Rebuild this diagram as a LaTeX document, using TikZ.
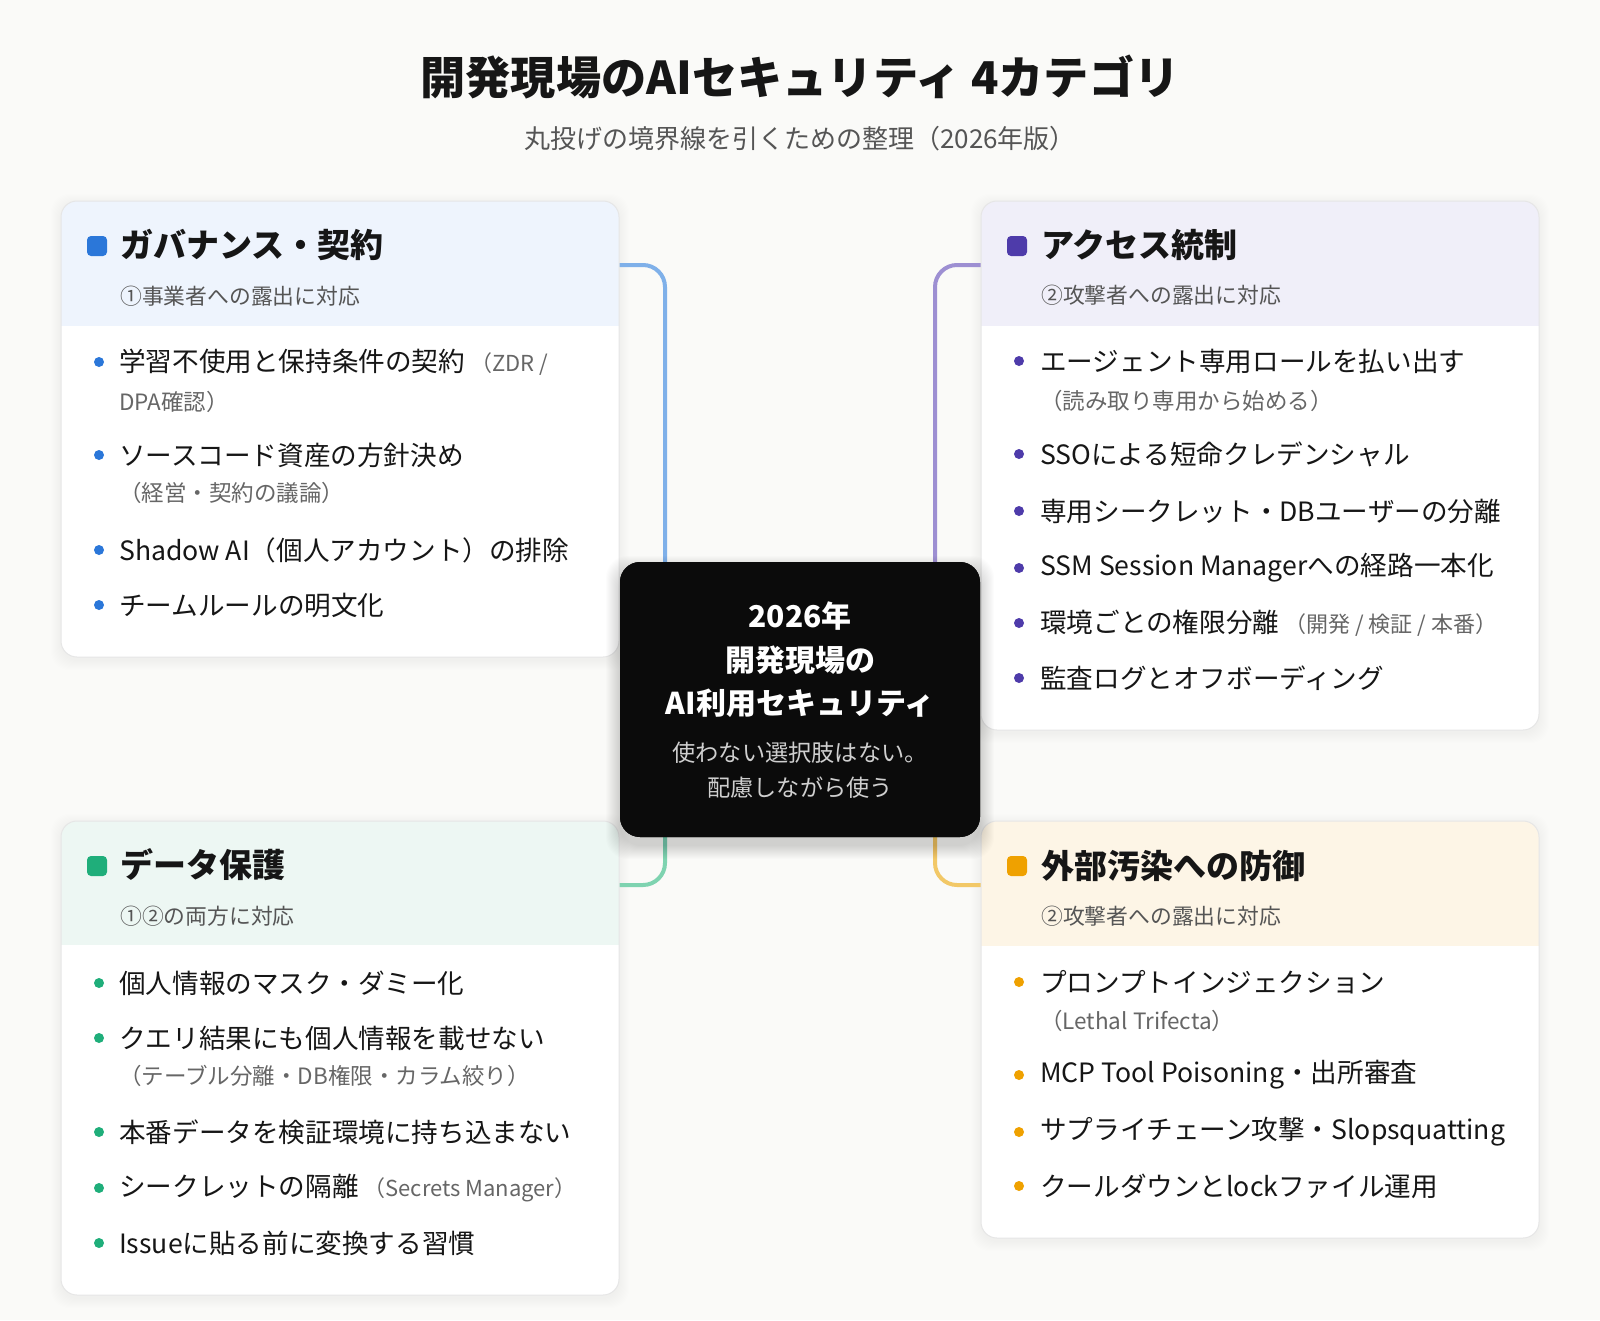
\documentclass[tikz,border=0pt]{standalone}
\usepackage{fontspec}
\setmainfont{Noto Sans CJK JP}
\definecolor{bgc}{HTML}{FAFAF8}
\definecolor{cardline}{HTML}{E6E6E6}
\definecolor{ink}{HTML}{161616}
\definecolor{subink}{HTML}{555555}
\definecolor{noteink}{HTML}{666666}
\definecolor{ctrfill}{HTML}{0B0B0B}
\definecolor{ctrsub}{HTML}{CFCFCF}
\definecolor{hdrA}{HTML}{EEF4FD}
\definecolor{bulA}{HTML}{2B77D9}
\definecolor{lnA}{HTML}{7FB0E9}
\definecolor{hdrB}{HTML}{F0EFF9}
\definecolor{bulB}{HTML}{4E3BAA}
\definecolor{lnB}{HTML}{9D8FD2}
\definecolor{hdrC}{HTML}{EDF7F3}
\definecolor{bulC}{HTML}{1FAE7A}
\definecolor{lnC}{HTML}{7ED3B0}
\definecolor{hdrD}{HTML}{FDF5E6}
\definecolor{bulD}{HTML}{EFA100}
\definecolor{lnD}{HTML}{F2C867}
\pgfdeclarelayer{bglayer}
\pgfsetlayers{bglayer,main}
\newcommand\softshadow[4]{% node, radius, opacity, drop
  \foreach \i in {1,...,10}{
    \fill[black,opacity=#3,rounded corners=#2]
      ([xshift={-\i*1pt},yshift={\i*1pt-#4}]#1.north west) rectangle
      ([xshift={\i*1pt},yshift={-\i*1pt-#4}]#1.south east);
  }}
\newcommand\headerband[3]{% node, color, height
  \begin{scope}
    \clip[rounded corners=16pt] (#1.north west) rectangle (#1.south east);
    \fill[#2] (#1.north west) rectangle ([yshift=-#3]#1.north east);
  \end{scope}
  \draw[cardline,line width=1pt,rounded corners=16pt] (#1.north west) rectangle (#1.south east);}
\begin{document}
\begin{tikzpicture}[x=1pt,y=-1pt,
  card/.style={fill=white, rounded corners=16pt, minimum width=558pt, inner sep=0pt, outer sep=0pt, anchor=north west},
  ctrbox/.style={fill=ctrfill, rounded corners=20pt, minimum width=360pt, minimum height=275pt, inner sep=0pt, outer sep=0pt},
  sqbul/.style={fill=#1, rounded corners=4pt, minimum size=20pt, inner sep=0pt},
  rdbul/.style={circle, fill=#1, minimum size=10pt, inner sep=0pt},
  hdtext/.style={anchor=west, inner sep=0pt, text=ink, font=\fontsize{33}{38}\selectfont\bfseries},
  hstext/.style={anchor=west, inner sep=0pt, text=subink, font=\fontsize{21.8}{25}\selectfont},
  ittext/.style={anchor=west, inner sep=0pt, text=ink, font=\fontsize{26.6}{30}\selectfont},
  nttext/.style={anchor=west, inner sep=0pt, text=noteink, font=\fontsize{22.5}{26}\selectfont},
  ctrbig/.style={inner sep=0pt, text=white, font=\fontsize{30}{34}\selectfont\bfseries},
  ctrsmall/.style={inner sep=0pt, text=ctrsub, font=\fontsize{23.2}{27}\selectfont},
  conn/.style={draw=#1, line width=4pt, rounded corners=22pt},
]
\newcommand\nt[1]{\hspace{5pt}{\color{noteink}\fontsize{22}{25}\selectfont #1}}
\begin{pgfonlayer}{bglayer}
\fill[bgc] (0,0) rectangle (1600,1320);
\end{pgfonlayer}
\useasboundingbox (0,0) rectangle (1600,1320);

% title
\node[inner sep=0pt, text=ink, font=\fontsize{45.2}{50}\selectfont\bfseries] (title) at (800,77) {開発現場のAIセキュリティ 4カテゴリ};
\node[inner sep=0pt, text=subink, font=\fontsize{26}{30}\selectfont] (subtitle) at (800,139) {丸投げの境界線を引くための整理（2026年版）};

% cards
\node[card, minimum height=456pt] (tl) at (61,201) {};
\node[card, minimum height=529pt] (tr) at (981,201) {};
\node[card, minimum height=474pt] (bl) at (61,821) {};
\node[card, minimum height=417pt] (br) at (981,821) {};
\node[ctrbox] (ctr) at (800,699.5) {};

\begin{pgfonlayer}{bglayer}
\softshadow{tl}{18pt}{0.005}{3pt}
\softshadow{tr}{18pt}{0.005}{3pt}
\softshadow{bl}{18pt}{0.005}{3pt}
\softshadow{br}{18pt}{0.005}{3pt}
\draw[conn=lnA] ([yshift=-64pt]tl.north east) -| ([xshift=-135pt]ctr.north);
\draw[conn=lnB] ([yshift=-64pt]tr.north west) -| ([xshift=135pt]ctr.north);
\draw[conn=lnC] ([xshift=-135pt]ctr.south) |- ([yshift=-64pt]bl.north east);
\draw[conn=lnD] ([xshift=135pt]ctr.south) |- ([yshift=-64pt]br.north west);
\end{pgfonlayer}

\headerband{tl}{hdrA}{125pt}
\headerband{tr}{hdrB}{125pt}
\headerband{bl}{hdrC}{124pt}
\headerband{br}{hdrD}{125pt}

% center box shadow + box drawn again on top
\begin{scope}
\foreach \i in {1,...,14}{
  \fill[black,opacity=0.012,rounded corners=22pt]
    ([xshift={-\i*1pt},yshift={\i*1pt-8pt}]ctr.north west) rectangle
    ([xshift={\i*1pt},yshift={-\i*1pt-8pt}]ctr.south east);
}
\end{scope}
\fill[ctrfill,rounded corners=20pt] (ctr.north west) rectangle (ctr.south east);

% ---- TL: governance
\node[sqbul=bulA] (tlsq) at (97,246) {};
\node[hdtext] (tlh) at (120,245) {ガバナンス・契約};
\node[hstext] (tls) at (120,296) {①事業者への露出に対応};
\node[rdbul=bulA] (tld1) at (99,362) {};
\node[ittext] (tli1) at (119,362) {学習不使用と保持条件の契約\nt{（ZDR /}};
\node[nttext] (tln1) at (119,402) {DPA確認）};
\node[rdbul=bulA] (tld2) at (99,455) {};
\node[ittext] (tli2) at (119,455) {ソースコード資産の方針決め};
\node[nttext] (tln2) at (119,493) {（経営・契約の議論）};
\node[rdbul=bulA] (tld3) at (99,550) {};
\node[ittext] (tli3) at (119,550) {Shadow AI（個人アカウント）の排除};
\node[rdbul=bulA] (tld4) at (99,605) {};
\node[ittext] (tli4) at (119,605) {チームルールの明文化};

% ---- TR: access control
\node[sqbul=bulB] (trsq) at (1017,246) {};
\node[hdtext] (trh) at (1041,245) {アクセス統制};
\node[hstext] (trs) at (1041,295) {②攻撃者への露出に対応};
\node[rdbul=bulB] (trd1) at (1019,361) {};
\node[ittext] (tri1) at (1040,361) {エージェント専用ロールを払い出す};
\node[nttext] (trn1) at (1040,401) {（読み取り専用から始める）};
\node[rdbul=bulB] (trd2) at (1019,454) {};
\node[ittext] (tri2) at (1040,454) {SSOによる短命クレデンシャル};
\node[rdbul=bulB] (trd3) at (1019,511) {};
\node[ittext] (tri3) at (1040,511) {専用シークレット・DBユーザーの分離};
\node[rdbul=bulB] (trd4) at (1019,568) {};
\node[ittext] (tri4) at (1040,568) {SSM Session Managerへの経路一本化};
\node[rdbul=bulB] (trd5) at (1019,623) {};
\node[ittext] (tri5) at (1040,623) {環境ごとの権限分離\nt{（開発 / 検証 / 本番）}};
\node[rdbul=bulB] (trd6) at (1019,678) {};
\node[ittext] (tri6) at (1040,678) {監査ログとオフボーディング};

% ---- BL: data protection
\node[sqbul=bulC] (blsq) at (97,866) {};
\node[hdtext] (blh) at (120,865) {データ保護};
\node[hstext] (bls) at (120,916) {①②の両方に対応};
\node[rdbul=bulC] (bld1) at (99,983) {};
\node[ittext] (bli1) at (119,983) {個人情報のマスク・ダミー化};
\node[rdbul=bulC] (bld2) at (99,1038) {};
\node[ittext] (bli2) at (119,1038) {クエリ結果にも個人情報を載せない};
\node[nttext] (bln2) at (119,1076) {（テーブル分離・DB権限・カラム絞り）};
\node[rdbul=bulC] (bld3) at (99,1132) {};
\node[ittext] (bli3) at (119,1132) {本番データを検証環境に持ち込まない};
\node[rdbul=bulC] (bld4) at (99,1188) {};
\node[ittext] (bli4) at (119,1188) {シークレットの隔離\nt{（Secrets Manager）}};
\node[rdbul=bulC] (bld5) at (99,1243) {};
\node[ittext] (bli5) at (119,1243) {Issueに貼る前に変換する習慣};

% ---- BR: external contamination
\node[sqbul=bulD] (brsq) at (1017,866) {};
\node[hdtext] (brh) at (1041,866) {外部汚染への防御};
\node[hstext] (brs) at (1041,916) {②攻撃者への露出に対応};
\node[rdbul=bulD] (brd1) at (1019,982) {};
\node[ittext] (bri1) at (1040,982) {プロンプトインジェクション};
\node[nttext] (brn1) at (1040,1021) {（Lethal Trifecta）};
\node[rdbul=bulD] (brd2) at (1019,1075) {};
\node[ittext] (bri2) at (1040,1075) {MCP Tool Poisoning・出所審査};
\node[rdbul=bulD] (brd3) at (1019,1132) {};
\node[ittext] (bri3) at (1040,1132) {サプライチェーン攻撃・Slopsquatting};
\node[rdbul=bulD] (brd4) at (1019,1186) {};
\node[ittext] (bri4) at (1040,1186) {クールダウンとlockファイル運用};

% ---- center text
\node[ctrbig] (c1) at (800,616) {2026年};
\node[ctrbig] (c2) at (800,660) {開発現場の};
\node[ctrbig] (c3) at (800,703) {AI利用セキュリティ};
\node[ctrsmall] (c4) at (800,753) {使わない選択肢はない。};
\node[ctrsmall] (c5) at (800,788) {配慮しながら使う};
\end{tikzpicture}
\end{document}
